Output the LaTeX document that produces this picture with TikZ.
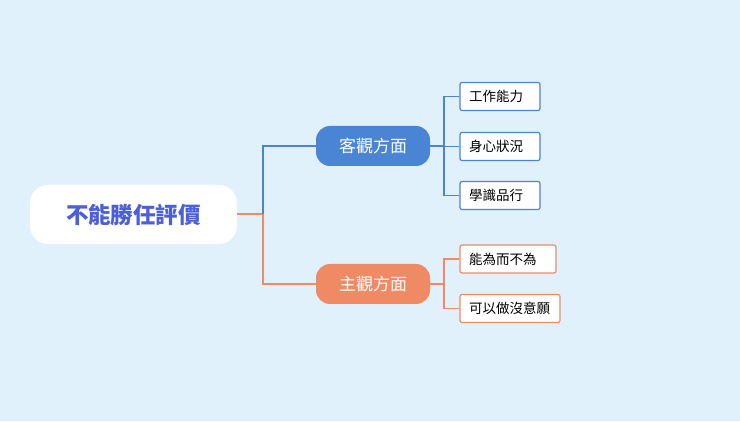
\documentclass[tikz,border=0pt]{standalone}
\usepackage{fontspec}
\setmainfont{Noto Sans CJK TC}
\usetikzlibrary{positioning}
\definecolor{bg}{HTML}{E0F1FC}
\definecolor{bluebr}{HTML}{4A84D4}
\definecolor{orangebr}{HTML}{F08A65}
\definecolor{roottext}{HTML}{4B5FD8}
\tikzset{
  root/.style={rectangle, rounded corners=18pt, fill=white, minimum width=207pt, minimum height=59pt, text=roottext, font=\bfseries\fontsize{22.5}{24}\selectfont},
  mid/.style={rectangle, rounded corners=14pt, fill=#1, text=white, minimum width=114pt, minimum height=40pt, font=\fontsize{17}{19}\selectfont},
  leaf/.style={rectangle, rounded corners=2pt, draw=#1, line width=1.2pt, fill=white, minimum height=28pt, inner xsep=9pt, align=left, font=\fontsize{13.5}{15}\selectfont},
  link/.style={line width=2pt, draw=#1},
  sublink/.style={line width=1.2pt, draw=#1}
}
\begin{document}
\begin{tikzpicture}[x=1pt,y=1pt]
  \fill[bg] (0,0) rectangle (740,421);
  \useasboundingbox (0,0) rectangle (740,421);
  \node (root) [root] at (133.5,206.5) {不能勝任評價};
  \node (obj) [mid=bluebr] at (373,275) {客觀方面};
  \node (subj) [mid=orangebr] at (373,137) {主觀方面};
  \node (l1) [leaf=bluebr, text width=62pt] at (500,324.5) {工作能力};
  \node (l2) [leaf=bluebr, text width=62pt] at (500,274.5) {身心狀況};
  \node (l3) [leaf=bluebr, text width=62pt] at (500,225.5) {學識品行};
  \node (l4) [leaf=orangebr, text width=78pt] at (508,162) {能為而不為};
  \node (l5) [leaf=orangebr, text width=82pt] at (510,112.5) {可以做沒意願};
  \coordinate (fork) at (263,206.5);
  % main branches
  \draw [link=orangebr] (root.east) -- (fork);
  \draw [link=bluebr] (fork) |- (obj.west);
  \draw [link=orangebr] (fork) |- (subj.west);
  % leaves
  \coordinate (fo) at (444,275);
  \draw [sublink=bluebr] (obj.east) -- (fo);
  \foreach \n in {l1,l2,l3} \draw [sublink=bluebr] (fo) |- (\n.west);
  \coordinate (fs) at (444,137);
  \draw [sublink=orangebr] (subj.east) -- (fs);
  \foreach \n in {l4,l5} \draw [sublink=orangebr] (fs) |- (\n.west);
\end{tikzpicture}
\end{document}
